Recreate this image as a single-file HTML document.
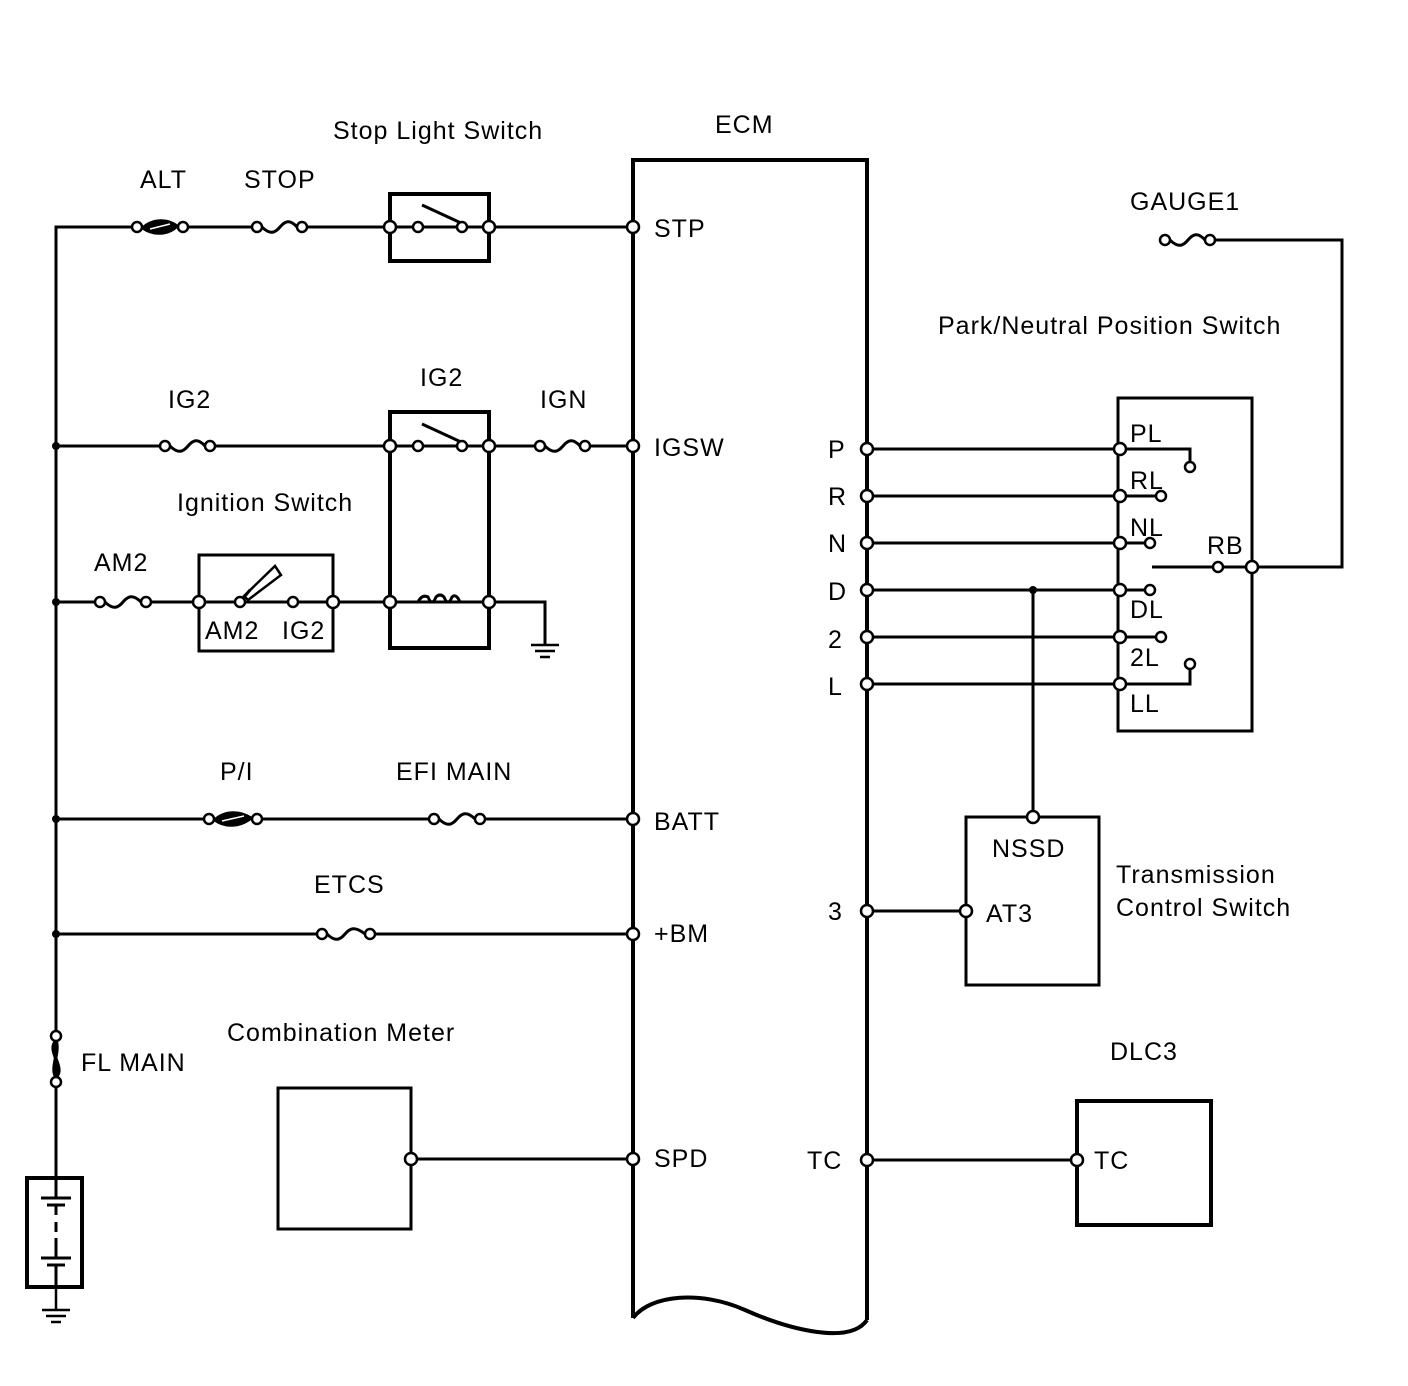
<!DOCTYPE html>
<html><head><meta charset="utf-8"><style>
html,body{margin:0;padding:0;background:#fff}
svg{display:block}
text{font-family:"Liberation Sans",Arial,sans-serif;font-size:25px;letter-spacing:1px;fill:#000}
</style></head><body>
<svg width="1408" height="1386" viewBox="0 0 1408 1386" xmlns="http://www.w3.org/2000/svg">
<g fill="none" stroke="#000" stroke-width="3">
<path d="M633 1318 V160 H867 V1320" stroke-width="4"/>
<path d="M633 1318 C650 1295 700 1290 745 1310 C790 1330 850 1345 867 1320" stroke-width="4"/>
<path d="M56 1178 V227 H132"/>
<path d="M188 227 H252 M307 227 H633"/>
<path d="M56 446 H160 M215 446 H535 M590 446 H633"/>
<path d="M56 602 H95 M151 602 H545 V645"/>
<path d="M56 819 H204 M262 819 H429 M485 819 H633"/>
<path d="M56 934 H317 M375 934 H633"/>
<path d="M411 1159 H633"/>
<rect x="390" y="194" width="99" height="67" stroke-width="4"/>
<rect x="390" y="412" width="99" height="236" stroke-width="4"/>
<rect x="199" y="555" width="134" height="96" stroke-width="3"/>
<rect x="278" y="1088" width="133" height="141" stroke-width="3"/>
<rect x="27" y="1178" width="55" height="109" stroke-width="4"/>
<rect x="1118" y="398" width="134" height="333" stroke-width="3"/>
<rect x="966" y="817" width="133" height="168" stroke-width="3"/>
<rect x="1077" y="1101" width="134" height="124" stroke-width="4"/>
<path d="M422 205 L461 223 M422 424 L461 442"/>
<path d="M390 227 H418 M462 227 H489 M390 446 H418 M462 446 H489" />
<path d="M240 602 L250 590" />
<polygon points="244,596 275,566 281,575 248,600" stroke-width="2.5"/>
<path d="M390 602 H418 Q422 594 428 597 Q432 607 436 597 Q440 593 444 597 Q448 607 452 597 Q456 593 460 602 H489" stroke-width="3"/>
<path d="M531 645 H559 M535 651 H555 M540 657 H550" stroke-width="2.5"/>
<path d="M56 1287 V1310 M42 1310 H70 M46 1316 H66 M51 1322 H61" stroke-width="2.5"/>
<path d="M56 1178 V1198 M41 1198 H71 M47 1205 H65 M56 1205 V1215 M56 1222 V1232 M56 1238 V1258 M41 1258 H71 M47 1265 H65 M56 1265 V1287" stroke-width="3"/>
<path d="M56 1041 V1077 M56 1082 V1178"/>
<path d="M56 1041 C46 1050 66 1068 56 1077 C50 1068 60 1052 56 1041Z" stroke-width="3.5"/>
<path d="M867 449 H1190 V462 M867 496 H1156 M867 543 H1145 M867 590 H1145 M867 637 H1156 M867 684 H1190 V669"/>
<path d="M1152 567 H1213 M1223 567 H1247 M1257 567 H1342 V240 H1215 M1033 590 V812"/>
<path d="M867 911 H961 M867 1160 H1072"/>
</g>
<g fill="none" stroke="#000" stroke-width="3">
<path d="M262 227 C270 235 275 233 280 227 C285 221 290 219 297 227"/>
<path d="M170 446 C178 454 183 452 188 446 C193 440 198 438 205 446"/>
<path d="M545 446 C553 454 558 452 563 446 C568 440 573 438 580 446"/>
<path d="M105 602 C113 610 118 608 123 602 C128 596 133 594 141 602"/>
<path d="M439 819 C447 827 452 825 457 819 C462 813 467 811 475 819"/>
<path d="M327 934 C335 942 340 940 345 934 C350 928 355 926 365 934"/>
<path d="M1170 240 C1178 248 1183 246 1188 240 C1193 234 1198 232 1205 240"/>
</g>
<g fill="#000" stroke="#000" stroke-width="2">
<path d="M142 228 C152 218 168 218 178 226 C168 236 152 236 142 228Z"/>
<path d="M214 820 C224 810 240 810 252 818 C240 828 224 828 214 820Z"/>
</g>
<g stroke="#fff" stroke-width="1.5"><path d="M150 229 L170 224 M222 821 L244 816"/></g>
<g fill="#000"><circle cx="56" cy="446" r="4"/><circle cx="56" cy="602" r="4"/><circle cx="56" cy="819" r="4"/><circle cx="56" cy="934" r="4"/><circle cx="1033" cy="590" r="4"/></g>
<g fill="#fff" stroke="#000" stroke-width="2.5">
<circle cx="137" cy="227" r="5"/><circle cx="183" cy="227" r="5"/>
<circle cx="257" cy="227" r="5"/><circle cx="302" cy="227" r="5"/>
<circle cx="390" cy="227" r="6"/><circle cx="418" cy="227" r="5"/><circle cx="462" cy="227" r="5"/><circle cx="489" cy="227" r="6"/>
<circle cx="633" cy="227" r="6"/>
<circle cx="165" cy="446" r="5"/><circle cx="210" cy="446" r="5"/>
<circle cx="390" cy="446" r="6"/><circle cx="418" cy="446" r="5"/><circle cx="462" cy="446" r="5"/><circle cx="489" cy="446" r="6"/>
<circle cx="540" cy="446" r="5"/><circle cx="585" cy="446" r="5"/><circle cx="633" cy="446" r="6"/>
<circle cx="100" cy="602" r="5"/><circle cx="146" cy="602" r="5"/>
<circle cx="199" cy="602" r="6"/><circle cx="240" cy="602" r="5"/><circle cx="293" cy="602" r="5"/><circle cx="333" cy="602" r="6"/>
<circle cx="390" cy="602" r="6"/><circle cx="489" cy="602" r="6"/>
<circle cx="209" cy="819" r="5"/><circle cx="257" cy="819" r="5"/>
<circle cx="434" cy="819" r="5"/><circle cx="480" cy="819" r="5"/><circle cx="633" cy="819" r="6"/>
<circle cx="322" cy="934" r="5"/><circle cx="370" cy="934" r="5"/><circle cx="633" cy="934" r="6"/>
<circle cx="56" cy="1036" r="5"/><circle cx="56" cy="1082" r="5"/>
<circle cx="411" cy="1159" r="6"/><circle cx="633" cy="1159" r="6"/>
<circle cx="867" cy="449" r="6"/><circle cx="867" cy="496" r="6"/><circle cx="867" cy="543" r="6"/><circle cx="867" cy="590" r="6"/><circle cx="867" cy="637" r="6"/><circle cx="867" cy="684" r="6"/>
<circle cx="1120" cy="449" r="6"/><circle cx="1120" cy="496" r="6"/><circle cx="1120" cy="543" r="6"/><circle cx="1120" cy="590" r="6"/><circle cx="1120" cy="637" r="6"/><circle cx="1120" cy="684" r="6"/>
<circle cx="1190" cy="467" r="5"/><circle cx="1161" cy="496" r="5"/><circle cx="1150" cy="543" r="5"/><circle cx="1150" cy="590" r="5"/><circle cx="1161" cy="637" r="5"/><circle cx="1190" cy="664" r="5"/>
<circle cx="1218" cy="567" r="5"/><circle cx="1252" cy="567" r="6"/>
<circle cx="1165" cy="240" r="5"/><circle cx="1210" cy="240" r="5"/>
<circle cx="1033" cy="817" r="6"/><circle cx="966" cy="911" r="6"/><circle cx="867" cy="911" r="6"/>
<circle cx="867" cy="1160" r="6"/><circle cx="1077" cy="1160" r="6"/>
</g>
<text x="333" y="139">Stop Light Switch</text>
<text x="715" y="133">ECM</text>
<text x="140" y="188">ALT</text>
<text x="244" y="188">STOP</text>
<text x="654" y="237">STP</text>
<text x="1130" y="210">GAUGE1</text>
<text x="938" y="334">Park/Neutral Position Switch</text>
<text x="420" y="386">IG2</text>
<text x="168" y="408">IG2</text>
<text x="540" y="408">IGN</text>
<text x="654" y="456">IGSW</text>
<text x="177" y="511">Ignition Switch</text>
<text x="94" y="571">AM2</text>
<text x="205" y="639">AM2</text>
<text x="282" y="639">IG2</text>
<text x="828" y="458">P</text>
<text x="828" y="505">R</text>
<text x="828" y="552">N</text>
<text x="828" y="600">D</text>
<text x="828" y="648">2</text>
<text x="828" y="695">L</text>
<text x="1130" y="442">PL</text>
<text x="1130" y="489">RL</text>
<text x="1130" y="536">NL</text>
<text x="1207" y="554">RB</text>
<text x="1130" y="618">DL</text>
<text x="1130" y="666">2L</text>
<text x="1130" y="712">LL</text>
<text x="220" y="780">P/I</text>
<text x="396" y="780">EFI MAIN</text>
<text x="654" y="830">BATT</text>
<text x="992" y="857">NSSD</text>
<text x="1116" y="883">Transmission</text>
<text x="1116" y="916">Control Switch</text>
<text x="314" y="893">ETCS</text>
<text x="654" y="942">+BM</text>
<text x="828" y="920">3</text>
<text x="986" y="922">AT3</text>
<text x="227" y="1041">Combination Meter</text>
<text x="81" y="1071">FL MAIN</text>
<text x="1110" y="1060">DLC3</text>
<text x="654" y="1167">SPD</text>
<text x="807" y="1169">TC</text>
<text x="1094" y="1169">TC</text>
</svg>
</body></html>
